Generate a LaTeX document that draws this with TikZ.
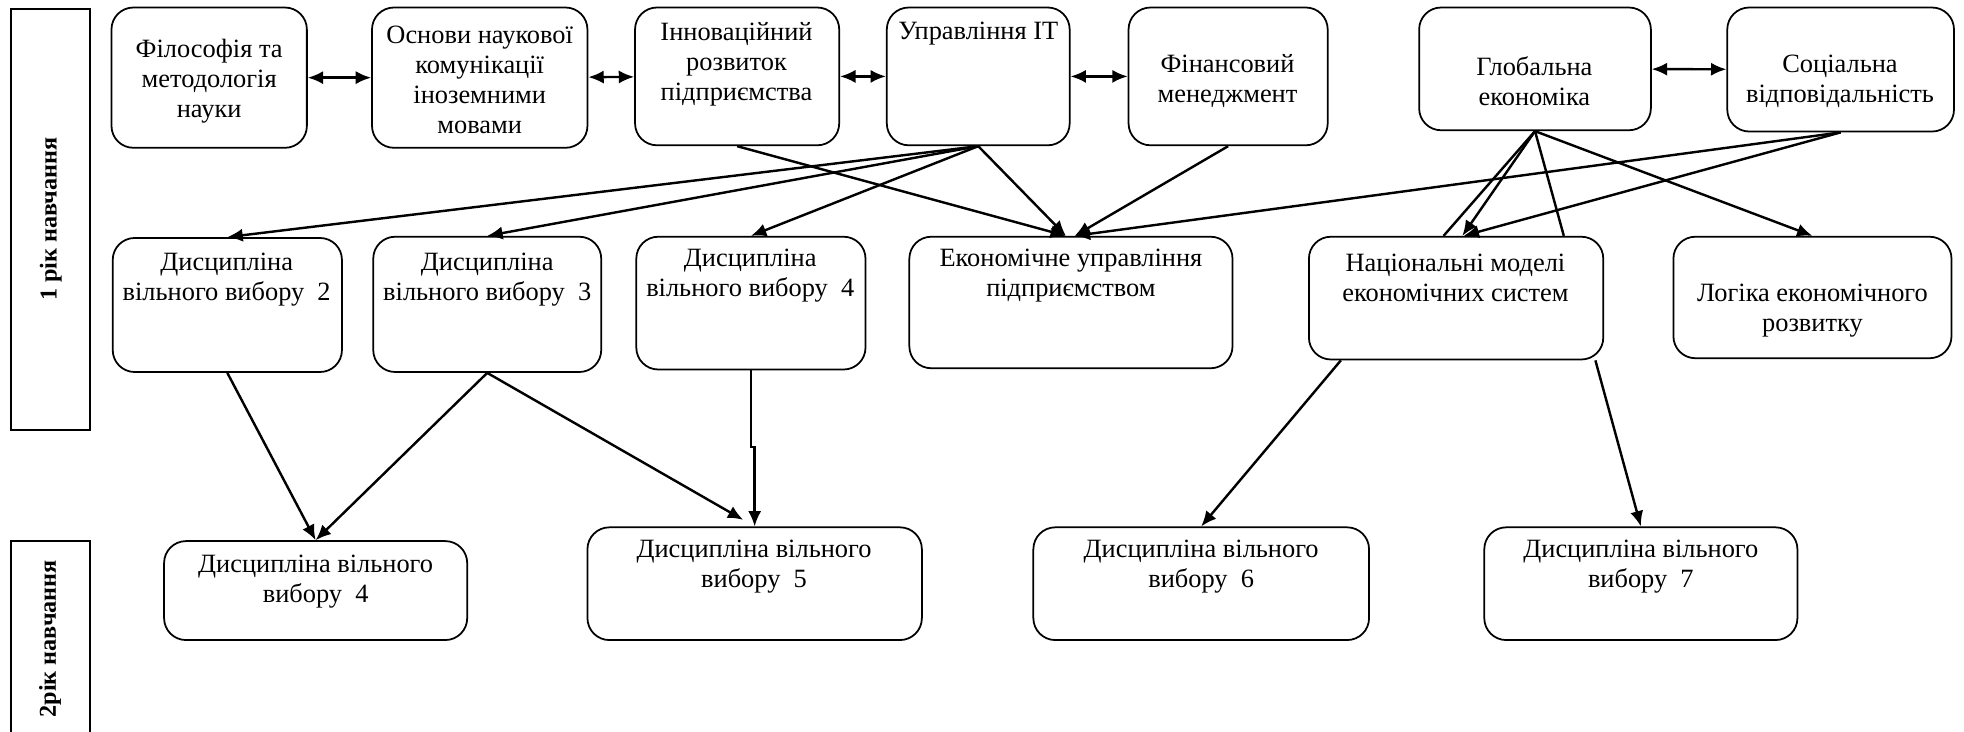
\documentclass[tikz,border=0pt]{standalone}
\usepackage{fontspec}
\setmainfont{Liberation Serif}
\usetikzlibrary{arrows.meta,calc,fit,positioning}
\tikzset{
	kurs/.style={draw, rounded corners=.35cm, line width=.8pt, inner sep=0pt},
	txt/.style={align=center, inner sep=0pt, font=\fontsize{12}{13.6}\selectfont},
	rik/.style={draw, line width=1pt, inner sep=0pt},
	riktxt/.style={rotate=90, inner sep=0pt, font=\bfseries\fontsize{11}{13}\selectfont},
	arr/.style={line width=1.1pt, -{Latex[length=7pt,width=6pt]}},
	dbl/.style={line width=1.1pt, {Latex[length=7pt,width=6pt]}-{Latex[length=7pt,width=6pt]}},
}

\begin{document}
\begin{tikzpicture}[x=.02cm, y=-.02cm]
\useasboundingbox (0,0) rectangle (1568,584);
% roky navchannia
\node[rik, fit={(9,7) (72,343)}] (rik1) {};
\node[riktxt] (rik1-t) at (rik1) {1 рік навчання};
\draw[line width=1pt] (9,590) |- (72,432) -- (72,590);
\node[riktxt] (rik2-t) at (40,510) {2рік навчання};
% 1 rik: verkhnii riad
\node[kurs, fit={(89,6) (245,118)}] (filos) {};
\node[kurs, fit={(297,6) (469,118)}] (osn) {};
\node[kurs, fit={(507,6) (670,116)}] (innov) {};
\node[kurs, fit={(708,6) (854,116)}] (upr) {};
\node[kurs, fit={(901,6) (1060,116)}] (fin) {};
\node[kurs, fit={(1133,6) (1318,104)}] (glob) {};
\node[kurs, fit={(1379,6) (1560,105)}] (soc) {};
\node[txt] (filos-t) at (167,65) {Філософія та\\методологія\\науки};
\node[txt] (osn-t) at (383,64) {Основи наукової\\комунікації\\іноземними\\мовами};
\node[txt] (innov-t) at (588,51) {Інноваційний\\розвиток\\підприємства};
\node[txt] (upr-t) at (781,27) {Управління IT};
\node[txt] (fin-t) at (980,65) {Фінансовий\\менеджмент};
\node[txt] (glob-t) at (1225,65) {Глобальна\\економіка};
\node[txt] (soc-t) at (1469,65) {Соціальна\\відповідальність};
% 1 rik: druhyi riad
\node[kurs, fit={(90,190) (273,297)}] (d2) {};
\node[kurs, fit={(298,189) (480,297)}] (d3) {};
\node[kurs, fit={(508,189) (691,295)}] (d4) {};
\node[kurs, fit={(726,189) (984,294)}] (ekon) {};
\node[kurs, fit={(1045,189) (1280,287)}] (nat) {};
\node[kurs, fit={(1336,189) (1558,286)}] (log) {};
\node[txt] (d2-t) at (181,223) {Дисципліна\\вільного вибору~~2};
\node[txt] (d3-t) at (389,223) {Дисципліна\\вільного вибору~~3};
\node[txt] (d4-t) at (599,220) {Дисципліна\\вільного вибору~~4};
\node[txt] (ekon-t) at (855,220) {Економічне управління\\підприємством};
\node[txt] (nat-t) at (1162,222) {Національні моделі\\економічних систем};
\node[txt] (log-t) at (1447,248) {Логіка економічного\\розвитку};
% 2 rik
\node[kurs, fit={(131,432) (373,511)}] (y4) {};
\node[kurs, fit={(469,421) (736,511)}] (y5) {};
\node[kurs, fit={(825,421) (1093,511)}] (y6) {};
\node[kurs, fit={(1185,421) (1435,511)}] (y7) {};
\node[txt] (y4-t) at (252,464) {Дисципліна вільного\\вибору~~4};
\node[txt] (y5-t) at (602,452) {Дисципліна вільного\\вибору~~5};
\node[txt] (y6-t) at (959,452) {Дисципліна вільного\\вибору~~6};
\node[txt] (y7-t) at (1310,452) {Дисципліна вільного\\вибору~~7};
% zviazky
\draw[dbl] (filos) -- (osn);
\draw[dbl] (osn) -- (innov);
\draw[dbl] (innov) -- (upr);
\draw[dbl] (upr) -- (fin);
\draw[dbl] (glob) -- (soc);
\draw[arr] (upr.south) -- (d2.north);
\draw[arr] (upr.south) -- (d3.north);
\draw[arr] (upr.south) -- (d4.north);
\draw[arr] (upr.south) -- ($(ekon.north)+(-4,0)$);
\draw[arr] (innov.south) -- ($(ekon.north)+(-4,0)$);
\draw[arr] (fin.south) -- ($(ekon.north)+(3,0)$);
\draw[arr] (soc.south) -- ($(ekon.north)+(3,0)$);
\draw[arr] (soc.south) -- ($(nat.north)+(6,0)$);
\draw[arr] (glob.south) -- ($(nat.north)+(5,0)$);
\draw[line width=1.1pt] (glob.south) -- ($(nat.north)+(-10,0)$);
\draw[line width=1.1pt] (glob.south) -- ($(nat.north)+(86,0)$);
\draw[arr] (glob.south) -- (log.north);
\draw[arr] (d2.south) -- (y4.north);
\draw[arr] (d3.south) -- (y4.north);
\draw[arr, shorten >=6pt] (d3.south) -- (y5.north);
\draw[arr] (d4.south) -- ++(0,61) -| (y5.north);
\draw[arr] ($(nat.south)+(-92,0)$) -- (y6.north);
\draw[arr] ($(nat.south east)+(-7,0)$) -- (y7.north);
\end{tikzpicture}
\end{document}
